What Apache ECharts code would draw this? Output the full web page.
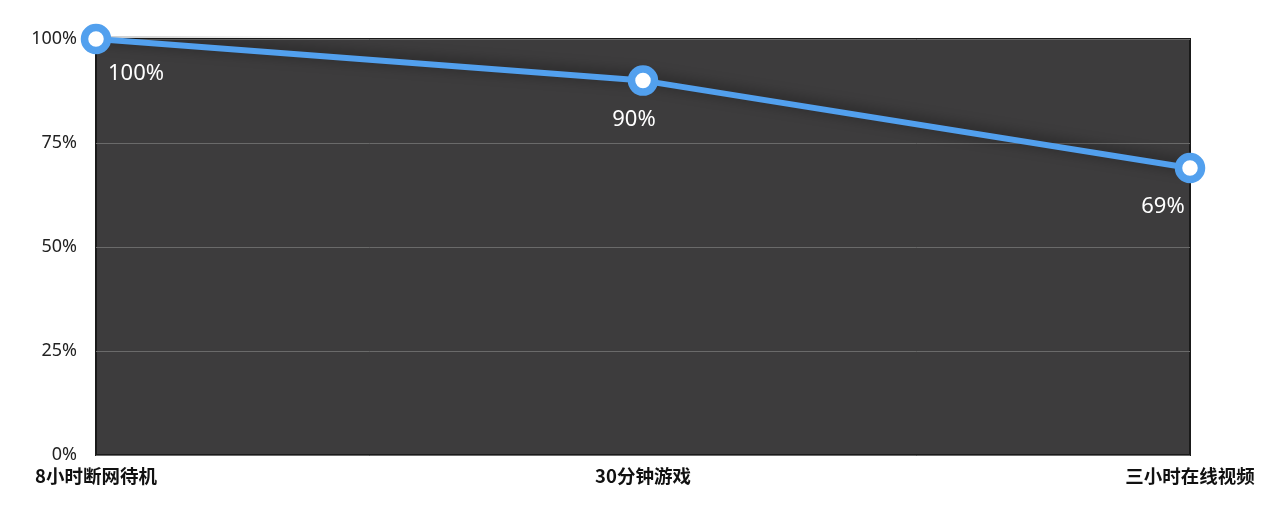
<!DOCTYPE html>
<html><head><meta charset="utf-8">
<script src="https://cdn.jsdelivr.net/npm/echarts@6/dist/echarts.min.js"></script>
<style>html,body{margin:0;padding:0;background:#fff}#c{width:1280px;height:510px}</style>
</head><body><div id="c"></div>
<script>
var categories = ['8小时断网待机', '30分钟游戏', '三小时在线视频'];
var values = [100, 90, 69];
var yTicks = [0, 25, 50, 75, 100];

var chart = echarts.init(document.getElementById('c'));
var labelShiftX = [40, -9, -27];
var labelShiftY = [-5, 0, 0];
chart.setOption({
  backgroundColor: '#fff',
  animation: false,
  grid: {
    left: 96, right: 90, top: 39, bottom: 55,
    show: true, backgroundColor: '#3d3c3d', borderColor: '#1a1a1a', borderWidth: 2
  },
  xAxis: {
    type: 'category', data: categories, boundaryGap: false,
    axisLine: { show: false }, axisTick: { show: false },
    axisLabel: { color: '#111', fontSize: 18.5, fontWeight: 'bold', margin: 12,
      fontFamily: 'Noto Sans CJK SC', interval: 0 }
  },
  yAxis: {
    type: 'value', min: yTicks[0], max: yTicks[yTicks.length - 1], interval: 25,
    axisLine: { show: false }, axisTick: { show: false },
    axisLabel: { color: '#222', fontSize: 18, margin: 19, formatter: '{value}%',
      fontFamily: 'Noto Sans' },
    splitLine: { lineStyle: { color: '#6a6a6a', width: 1 } }
  },
  series: [{
    type: 'line', data: values,
    symbol: 'circle', symbolSize: 23,
    lineStyle: { color: '#52a0ee', width: 6, shadowColor: 'rgba(0,0,0,0.55)', shadowBlur: 14, shadowOffsetY: -2 },
    itemStyle: { color: '#ffffff', borderColor: '#52a0ee', borderWidth: 7.5, opacity: 1 },
    label: { show: true, position: 'bottom', distance: 13, color: '#fff', fontSize: 22,
      fontFamily: 'Noto Sans', formatter: '{c}%' },
    labelLayout: function (p) { return { dx: labelShiftX[p.dataIndex], dy: labelShiftY[p.dataIndex] }; }
  }]
});
</script></body></html>
